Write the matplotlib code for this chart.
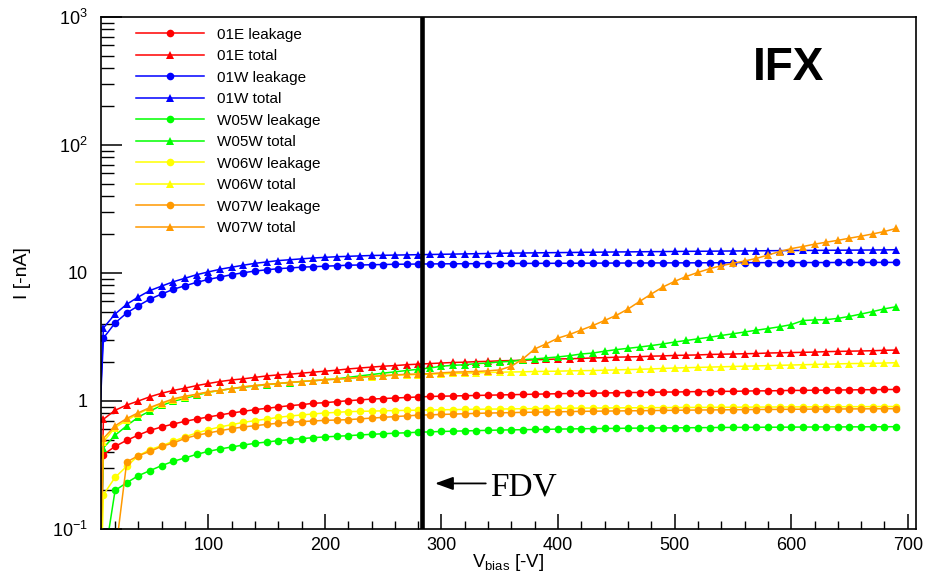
import numpy as np
import matplotlib
matplotlib.use('Agg')
import matplotlib.pyplot as plt
from matplotlib.ticker import FixedLocator, MultipleLocator, LogLocator, NullFormatter

plt.rcParams['font.family'] = ['Liberation Sans', 'DejaVu Sans']
plt.rcParams['mathtext.fontset'] = 'custom'
plt.rcParams['mathtext.rm'] = 'Liberation Sans'
plt.rcParams['mathtext.it'] = 'Liberation Sans'

# bias sweep, 0..690 V in 10 V steps
vbias = np.arange(0, 700, 10)

# currents in nA
e01_leak = [1e-4, 0.381, 0.442, 0.493, 0.542, 0.59, 0.627, 0.661, 0.694, 0.723,
            0.75, 0.778, 0.806, 0.83, 0.856, 0.877, 0.898, 0.92, 0.936, 0.959,
            0.97, 0.988, 1.005, 1.02, 1.035, 1.045, 1.055, 1.065, 1.075, 1.085,
            1.09, 1.095, 1.1, 1.105, 1.11, 1.115, 1.12, 1.125, 1.13, 1.135,
            1.14, 1.145, 1.15, 1.15, 1.155, 1.16, 1.165, 1.165, 1.17, 1.175,
            1.175, 1.18, 1.185, 1.185, 1.19, 1.19, 1.195, 1.2, 1.2, 1.205,
            1.21, 1.21, 1.215, 1.215, 1.22, 1.22, 1.225, 1.225, 1.23, 1.23]
e01_total = [1e-4, 0.72, 0.846, 0.93, 1.0, 1.08, 1.15, 1.21, 1.26, 1.32,
             1.37, 1.42, 1.46, 1.49, 1.53, 1.57, 1.6, 1.62, 1.65, 1.68,
             1.71, 1.74, 1.78, 1.81, 1.84, 1.87, 1.89, 1.92, 1.94, 1.96,
             1.98, 2.0, 2.01, 2.03, 2.04, 2.06, 2.07, 2.08, 2.1, 2.11,
             2.13, 2.14, 2.15, 2.17, 2.18, 2.2, 2.21, 2.22, 2.24, 2.25,
             2.27, 2.28, 2.29, 2.31, 2.32, 2.33, 2.34, 2.35, 2.37, 2.38,
             2.39, 2.4, 2.41, 2.43, 2.44, 2.45, 2.46, 2.47, 2.49, 2.5]
w01_leak = [0.03, 3.1, 4.07, 4.87, 5.55, 6.26, 6.85, 7.46, 7.95, 8.45,
            8.9, 9.3, 9.7, 10.05, 10.35, 10.6, 10.8, 10.95, 11.1, 11.2,
            11.3, 11.4, 11.5, 11.55, 11.6, 11.65, 11.7, 11.72, 11.75, 11.77,
            11.79, 11.8, 11.82, 11.83, 11.85, 11.86, 11.87, 11.88, 11.89, 11.9,
            11.91, 11.92, 11.93, 11.94, 11.95, 11.96, 11.97, 11.98, 11.98, 11.99,
            12.0, 12.0, 12.01, 12.02, 12.02, 12.03, 12.04, 12.04, 12.05, 12.05,
            12.06, 12.06, 12.07, 12.07, 12.08, 12.08, 12.09, 12.09, 12.1, 12.1]
w01_total = [0.03, 3.72, 4.78, 5.7, 6.5, 7.3, 7.9, 8.55, 9.1, 9.7,
             10.2, 10.7, 11.1, 11.5, 11.9, 12.2, 12.5, 12.7, 12.9, 13.1,
             13.25, 13.4, 13.5, 13.6, 13.7, 13.75, 13.8, 13.85, 13.9, 13.95,
             14.0, 14.05, 14.1, 14.15, 14.2, 14.25, 14.3, 14.33, 14.36, 14.4,
             14.43, 14.46, 14.5, 14.53, 14.56, 14.6, 14.62, 14.65, 14.68, 14.7,
             14.73, 14.76, 14.78, 14.8, 14.83, 14.86, 14.88, 14.9, 14.93, 14.95,
             14.97, 15.0, 15.02, 15.04, 15.06, 15.08, 15.1, 15.12, 15.15, 15.2]
w05_leak = [1e-4, 0.052, 0.2, 0.23, 0.261, 0.286, 0.313, 0.338, 0.359, 0.383,
            0.404, 0.422, 0.437, 0.453, 0.467, 0.478, 0.49, 0.499, 0.508, 0.517,
            0.524, 0.53, 0.536, 0.543, 0.549, 0.555, 0.56, 0.565, 0.57, 0.574,
            0.578, 0.581, 0.584, 0.587, 0.59, 0.593, 0.595, 0.597, 0.599, 0.601,
            0.603, 0.605, 0.607, 0.608, 0.61, 0.611, 0.613, 0.614, 0.615, 0.616,
            0.617, 0.618, 0.619, 0.62, 0.621, 0.622, 0.622, 0.623, 0.624, 0.624,
            0.625, 0.626, 0.626, 0.627, 0.627, 0.628, 0.628, 0.629, 0.629, 0.63]
w05_total = [1e-4, 0.43, 0.54, 0.64, 0.75, 0.835, 0.925, 0.994, 1.05, 1.11,
             1.17, 1.21, 1.25, 1.28, 1.31, 1.34, 1.37, 1.39, 1.42, 1.44,
             1.47, 1.49, 1.53, 1.57, 1.61, 1.65, 1.69, 1.73, 1.77, 1.81,
             1.87, 1.9, 1.92, 1.96, 1.98, 2.02, 2.04, 2.1, 2.13, 2.17,
             2.21, 2.26, 2.33, 2.37, 2.45, 2.52, 2.58, 2.64, 2.71, 2.79,
             2.89, 2.97, 3.06, 3.15, 3.25, 3.35, 3.46, 3.57, 3.68, 3.8,
             3.95, 4.25, 4.3, 4.32, 4.42, 4.58, 4.78, 5.0, 5.25, 5.45]
w06_leak = [1e-4, 0.185, 0.253, 0.309, 0.374, 0.417, 0.448, 0.484, 0.526, 0.562,
            0.597, 0.627, 0.653, 0.681, 0.702, 0.723, 0.745, 0.763, 0.778, 0.792,
            0.806, 0.815, 0.826, 0.83, 0.834, 0.838, 0.842, 0.845, 0.848, 0.851,
            0.854, 0.857, 0.86, 0.862, 0.864, 0.866, 0.868, 0.87, 0.872, 0.874,
            0.876, 0.878, 0.88, 0.881, 0.882, 0.884, 0.885, 0.886, 0.887, 0.888,
            0.889, 0.89, 0.891, 0.892, 0.893, 0.894, 0.895, 0.896, 0.897, 0.898,
            0.899, 0.9, 0.9, 0.901, 0.902, 0.903, 0.903, 0.904, 0.905, 0.905]
w06_total = [1e-4, 0.48, 0.62, 0.706, 0.796, 0.88, 0.953, 1.02, 1.07, 1.13,
             1.17, 1.21, 1.25, 1.29, 1.32, 1.35, 1.37, 1.4, 1.42, 1.44,
             1.47, 1.49, 1.5, 1.53, 1.55, 1.57, 1.59, 1.6, 1.61, 1.62,
             1.63, 1.64, 1.65, 1.66, 1.67, 1.68, 1.685, 1.69, 1.7, 1.705,
             1.71, 1.72, 1.725, 1.73, 1.74, 1.75, 1.76, 1.77, 1.78, 1.795,
             1.81, 1.82, 1.83, 1.84, 1.85, 1.86, 1.87, 1.88, 1.89, 1.9,
             1.91, 1.92, 1.93, 1.94, 1.95, 1.96, 1.965, 1.97, 1.98, 1.99]
w07_leak = [1e-4, 0.03, 0.061, 0.334, 0.374, 0.404, 0.442, 0.47, 0.51, 0.54,
            0.562, 0.586, 0.608, 0.627, 0.641, 0.657, 0.67, 0.681, 0.69, 0.698,
            0.706, 0.71, 0.715, 0.725, 0.735, 0.745, 0.755, 0.765, 0.775, 0.78,
            0.785, 0.79, 0.795, 0.8, 0.805, 0.808, 0.812, 0.815, 0.818, 0.821,
            0.824, 0.827, 0.83, 0.832, 0.834, 0.836, 0.838, 0.84, 0.842, 0.844,
            0.846, 0.848, 0.85, 0.852, 0.853, 0.855, 0.856, 0.858, 0.859, 0.86,
            0.862, 0.863, 0.864, 0.865, 0.866, 0.867, 0.868, 0.869, 0.87, 0.871]
w07_total = [1e-4, 0.51, 0.64, 0.73, 0.81, 0.89, 0.965, 1.04, 1.09, 1.13,
             1.18, 1.21, 1.25, 1.29, 1.32, 1.35, 1.37, 1.4, 1.42, 1.44,
             1.46, 1.48, 1.5, 1.53, 1.56, 1.58, 1.6, 1.615, 1.625, 1.635,
             1.66, 1.68, 1.69, 1.7, 1.72, 1.75, 1.87, 2.14, 2.55, 2.8,
             3.1, 3.31, 3.59, 3.89, 4.26, 4.67, 5.23, 6.0, 6.85, 7.78,
             8.6, 9.4, 10.1, 10.8, 11.4, 11.9, 12.4, 13.0, 13.8, 14.7,
             15.5, 16.1, 16.8, 17.4, 18.0, 18.7, 19.4, 20.2, 21.1, 22.3]

series = [
    ('01E leakage', e01_leak, '#ff0000', 'o'),
    ('01E total', e01_total, '#ff0000', '^'),
    ('01W leakage', w01_leak, '#0000ff', 'o'),
    ('01W total', w01_total, '#0000ff', '^'),
    ('W05W leakage', w05_leak, '#00ff00', 'o'),
    ('W05W total', w05_total, '#00ff00', '^'),
    ('W06W leakage', w06_leak, '#ffff00', 'o'),
    ('W06W total', w06_total, '#ffff00', '^'),
    ('W07W leakage', w07_leak, '#ff9900', 'o'),
    ('W07W total', w07_total, '#ff9900', '^'),
]
fdv = 283

fig = plt.figure(figsize=(9.28, 5.74), dpi=100)
ax = fig.add_axes([0.1083, 0.0784, 0.8787, 0.892])

for name, vals, col, mk in series:
    ax.plot(vbias, vals, color=col, marker=mk, markersize=5.5 if mk == 'o' else 6,
            markeredgewidth=0, lw=1.1, label=name)

ax.axvline(fdv, color='k', lw=3.3)

ax.set_yscale('log')
ax.set_xlim(7.5, 707)
ax.set_ylim(0.1, 1000)

# ROOT style ticks: inward, bottom/left only
ax.xaxis.set_major_locator(MultipleLocator(100))
ax.xaxis.set_minor_locator(MultipleLocator(20))
ax.yaxis.set_major_locator(FixedLocator([0.1, 1, 10, 100, 1000]))
ax.set_yticklabels(['$10^{-1}$', '1', '10', '$10^{2}$', '$10^{3}$'])
ax.yaxis.set_minor_locator(LogLocator(base=10, subs=np.arange(2, 10)))
ax.yaxis.set_minor_formatter(NullFormatter())
ax.tick_params(axis='x', which='major', direction='in', length=11, width=1.1,
               labelsize=13, pad=6, top=False)
ax.tick_params(axis='x', which='minor', direction='in', length=5.5, width=1.0, top=False)
ax.tick_params(axis='y', which='major', direction='in', length=15, width=1.1,
               labelsize=13, pad=9, right=False)
ax.tick_params(axis='y', which='minor', direction='in', length=9, width=1.0, right=False)
for sp in ax.spines.values():
    sp.set_linewidth(1.2)

ax.set_xlabel(r'$\mathrm{V_{bias}}$ [-V]', fontsize=13.5, labelpad=-2)
ax.set_ylabel('I [-nA]', fontsize=14, labelpad=15)

ax.legend(loc='upper left', bbox_to_anchor=(0.044, 0.979), frameon=False,
          fontsize=11, handlelength=4.4, handletextpad=0.9, labelspacing=0.49,
          borderpad=0, borderaxespad=0, numpoints=1)

ax.text(0.844, 0.877, 'IFX', transform=ax.transAxes, fontsize=33,
        fontweight='bold', ha='center', va='baseline')

trans = ax.get_xaxis_transform()
ax.annotate('', xy=(fdv + 11.5, 0.089), xytext=(fdv + 55, 0.089), xycoords=trans,
            textcoords=trans,
            arrowprops=dict(arrowstyle='-|>,head_length=1.1,head_width=0.4',
                            color='k', lw=1.3, shrinkA=0, shrinkB=0,
                            mutation_scale=10))
ax.text(fdv + 58.5, 0.066, 'FDV', transform=trans, fontsize=24,
        family='Liberation Serif', ha='left', va='baseline')

plt.savefig('out.png', dpi=100)
